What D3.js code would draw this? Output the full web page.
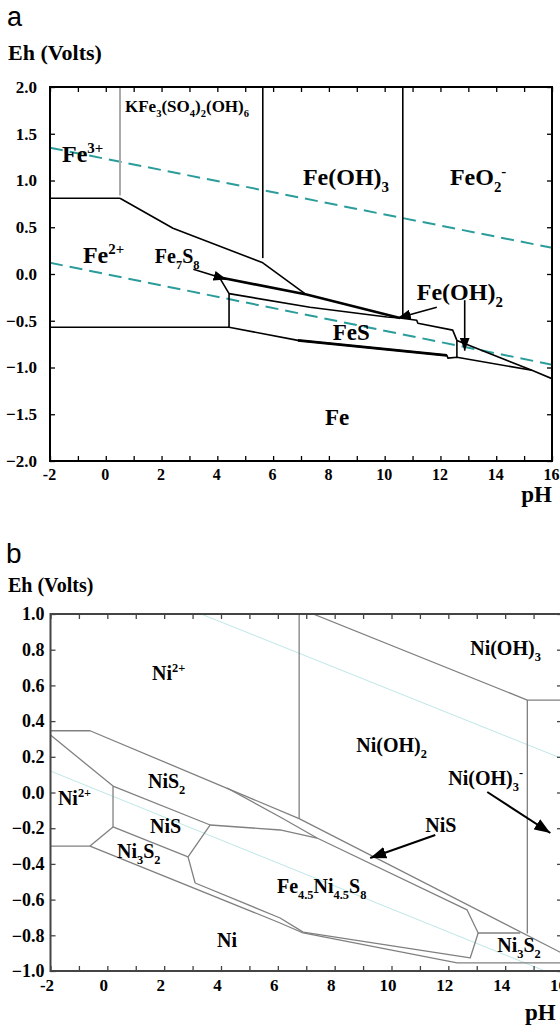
<!DOCTYPE html>
<html><head><meta charset="utf-8">
<script src="https://cdn.jsdelivr.net/npm/d3@7"></script>
<style>body{margin:0;background:#fff}</style>
</head><body><svg id="c" width="560" height="1025"></svg>
<script>
// ================= DATA =================
const phTicks = d3.range(-2, 17, 1);            // minor ticks every pH unit, labels every 2
const ehTicksA = [-2, -1.5, -1, -0.5, 0, 0.5, 1, 1.5, 2];
const ehTicksB = [-1, -0.8, -0.6, -0.4, -0.2, 0, 0.2, 0.4, 0.6, 0.8, 1];

// Panel a (Fe–S–K–H2O), points are [pH, Eh]
const feWaterLines = [[[-2, 1.35], [16, 0.28]], [[-2, 0.12], [16, -0.97]]];
const feGrayLines = [[[0.51, 2.0], [0.51, 0.84]]];
const feThinLines = [
  [[-2, 0.81], [0.51, 0.81]],
  [[0.51, 0.81], [2.41, 0.49], [5.63, 0.12], [7.14, -0.21]],
  [[5.63, 2.0], [5.63, 0.17]],
  [[10.65, 2.0], [10.65, -0.44]],
  [[-2, -0.57], [4.42, -0.57]],
  [[4.1, -0.05], [4.42, -0.21], [4.42, -0.57]],
  [[4.42, -0.21], [7.32, -0.355], [10.08, -0.46], [10.55, -0.47]],
  [[10.55, -0.47], [11.15, -0.495], [11.19, -0.527], [12.44, -0.60], [12.59, -0.71], [15.28, -1.03], [16, -1.12]],
  [[12.59, -0.71], [12.59, -0.89]],
  [[4.42, -0.57], [6.89, -0.71], [12.23, -0.87], [12.27, -0.90], [12.59, -0.89], [15.28, -1.03]]
];
const feThickLines = [
  [[4.15, -0.04], [7.2, -0.22], [10.55, -0.47]],
  [[6.89, -0.71], [12.23, -0.87]]
];
const feArrows = [
  [[3.14, 0.05], [4.33, -0.06]],
  [[11.87, -0.355], [10.47, -0.47]],
  [[12.87, -0.28], [12.87, -0.82]]
];
const feLabels = [
  {text: "KFe_{3}(SO_{4})_{2}(OH)_{6}", ph: 0.69, eh: 1.73},
  {text: "Fe^{3+}", ph: -1.57, eh: 1.20},
  {text: "Fe(OH)_{3}", ph: 7.07, eh: 0.95},
  {text: "FeO_{2}^{-}", ph: 12.34, eh: 0.95},
  {text: "Fe^{2+}", ph: -0.82, eh: 0.115},
  {text: "Fe_{7}S_{8}", ph: 1.76, eh: 0.115},
  {text: "Fe(OH)_{2}", ph: 11.15, eh: -0.28},
  {text: "FeS", ph: 8.14, eh: -0.71},
  {text: "Fe", ph: 7.86, eh: -1.62}
];

// Panel b (Ni–Fe–S–H2O)
const niWaterLines = [[[3.3, 1.0], [16, 0.19]], [[-2, 0.12], [15.4, -1.0]]];
const niLines = [
  [[-2, 0.346], [-0.61, 0.346], [6.75, -0.146], [16, -0.90]],
  [[-2, 0.322], [0.20, 0.036]],
  [[0.20, 0.036], [0.20, -0.193]],
  [[0.20, 0.036], [3.62, -0.182], [6.08, -0.210], [7.38, -0.255]],
  [[4.21, 0.025], [6.08, -0.137], [7.38, -0.255]],
  [[7.38, -0.255], [12.66, -0.658], [13.05, -0.787], [14.53, -0.787]],
  [[-2, -0.30], [-0.61, -0.30], [6.08, -0.731], [6.89, -0.787], [12.31, -0.955], [16, -0.955]],
  [[-0.61, -0.30], [0.20, -0.193]],
  [[0.20, -0.193], [2.84, -0.361]],
  [[3.62, -0.182], [2.84, -0.361], [3.09, -0.507]],
  [[3.09, -0.507], [6.08, -0.703], [6.89, -0.782], [12.77, -0.927], [13.05, -0.787]],
  [[6.75, 1.0], [6.75, -0.146]],
  [[7.24, 1.0], [14.78, 0.518], [16, 0.518]],
  [[14.78, 0.518], [14.78, -0.79]]
];
const niArrows = [
  [[11.54, -0.238], [9.25, -0.367]],
  [[13.37, 0.003], [15.59, -0.227]]
];
const niLabels = [
  {text: "Ni^{2+}", ph: 1.57, eh: 0.63},
  {text: "Ni(OH)_{3}", ph: 12.77, eh: 0.77},
  {text: "Ni(OH)_{2}", ph: 8.76, eh: 0.227},
  {text: "NiS_{2}", ph: 1.43, eh: 0.025},
  {text: "Ni^{2+}", ph: -1.74, eh: -0.07},
  {text: "NiS", ph: 1.50, eh: -0.227},
  {text: "Ni_{3}S_{2}", ph: 0.34, eh: -0.367},
  {text: "Ni", ph: 3.86, eh: -0.866},
  {text: "Fe_{4.5}Ni_{4.5}S_{8}", ph: 5.97, eh: -0.563},
  {text: "NiS", ph: 11.19, eh: -0.221},
  {text: "Ni(OH)_{3}^{-}", ph: 12.0, eh: 0.042},
  {text: "Ni_{3}S_{2}", ph: 13.72, eh: -0.894}
];

// ================= DRAWING =================
const SERIF = "'Liberation Serif'";
const SANS = "'Liberation Sans'";
const svg = d3.select("#c");

const defs = svg.append("defs");
function marker(id, color, len, wid) {
  defs.append("marker").attr("id", id).attr("viewBox", `0 0 ${len} ${wid}`)
    .attr("refX", len).attr("refY", wid / 2).attr("markerWidth", len).attr("markerHeight", wid)
    .attr("markerUnits", "userSpaceOnUse").attr("orient", "auto")
    .append("path").attr("d", `M0,0L${len},${wid / 2}L0,${wid}Z`).attr("fill", color);
}
marker("arrA", "#000", 13, 10);
marker("arrB", "#000", 16, 12);

function parseParts(s) {
  const re = /([_^])\{([^}]*)\}|([^_^]+)/g; const out = []; let m;
  while ((m = re.exec(s))) out.push(m[3] ? [m[3], ""] : [m[2], m[1] === "_" ? "sub" : "sup"]);
  return out;
}
function drawLabel(g, lab, x, y, size) {
  const t = g.append("text").attr("x", x(lab.ph)).attr("y", y(lab.eh))
    .style("font-family", SERIF).style("font-weight", "bold").style("font-size", size + "px").attr("fill", "#000");
  let shift = 0;
  parseParts(lab.text).forEach(([s, kind]) => {
    const target = kind === "sub" ? 0.28 * size : kind === "sup" ? -0.38 * size : 0;
    const ts = t.append("tspan").text(s).attr("dy", target - shift);
    if (kind) ts.style("font-size", (size * 0.62) + "px");
    shift = target;
  });
}

function panel(o) {
  const x = d3.scaleLinear().domain([-2, 16]).range([o.left, o.right]);
  const y = d3.scaleLinear().domain(o.ehDomain).range([o.bottom, o.top]);
  const g = svg.append("g");
  const line = d3.line().x(d => x(d[0])).y(d => y(d[1]));
  const clipId = "clip" + o.id;
  defs.append("clipPath").attr("id", clipId).append("rect")
    .attr("x", o.left).attr("y", o.top).attr("width", o.right - o.left).attr("height", o.bottom - o.top);
  const inner = g.append("g").attr("clip-path", `url(#${clipId})`);
  return {x, y, g, inner, line};
}

function axes(p, o) {
  const {x, y, g} = p;
  const fmtX = d => (d % 2 === 0 ? d : "");
  const bx = g.append("g").attr("transform", `translate(0,${o.bottom})`)
    .call(d3.axisBottom(x).tickValues(phTicks).tickSize(-5).tickPadding(o.xPad).tickFormat(fmtX));
  bx.selectAll("text").attr("dx", o.xdx).style("font-size", o.xFont + "px");
  g.append("g").attr("transform", `translate(0,${o.top})`)
    .call(d3.axisTop(x).tickValues(phTicks).tickSize(-5).tickFormat(""));
  const ly = g.append("g").attr("transform", `translate(${o.left},0)`)
    .call(d3.axisLeft(y).tickValues(o.ehTicks).tickSize(-5).tickPadding(o.yPad).tickFormat(d3.format(".1f")));
  ly.selectAll("text").style("font-size", o.yFont + "px");
  g.append("g").attr("transform", `translate(${o.right},0)`)
    .call(d3.axisRight(y).tickValues(o.ehTicks).tickSize(-5).tickFormat(""));
  g.selectAll(".domain").remove();
  g.selectAll(".tick line").attr("stroke", o.frame).attr("stroke-width", 1.3);
  g.selectAll(".tick text").style("font-family", SERIF).style("font-weight", "bold").attr("fill", "#000");
  g.append("rect").attr("x", o.left).attr("y", o.top).attr("width", o.right - o.left).attr("height", o.bottom - o.top)
    .attr("fill", "none").attr("stroke", o.frame).attr("stroke-width", 2);
}

// ---------- Panel a ----------
const oA = {id: "A", left: 50, right: 552, top: 87, bottom: 461, ehDomain: [-2, 2], ehTicks: ehTicksA,
  frame: "#000", xPad: 8, yPad: 13, xdx: -1, xFont: 16, yFont: 17};
const pA = panel(oA);
pA.inner.selectAll(".w").data(feWaterLines).enter().append("path").attr("d", pA.line)
  .attr("fill", "none").attr("stroke", "#2a9d9b").attr("stroke-width", 2).attr("stroke-dasharray", "13,7");
pA.inner.selectAll(".gr").data(feGrayLines).enter().append("path").attr("d", pA.line)
  .attr("fill", "none").attr("stroke", "#aaa").attr("stroke-width", 2);
pA.inner.selectAll(".th").data(feThinLines).enter().append("path").attr("d", pA.line)
  .attr("fill", "none").attr("stroke", "#000").attr("stroke-width", 1.6).attr("stroke-linejoin", "round");
pA.inner.selectAll(".tk").data(feThickLines).enter().append("path").attr("d", pA.line)
  .attr("fill", "none").attr("stroke", "#000").attr("stroke-width", 2.6);
pA.inner.selectAll(".ar").data(feArrows).enter().append("path").attr("d", pA.line)
  .attr("fill", "none").attr("stroke", "#000").attr("stroke-width", 1.6).attr("marker-end", "url(#arrA)");
axes(pA, oA);
const feLabelSizes = [17, 24, 24, 24, 24, 20, 24, 23, 23];
feLabels.forEach((l, i) => drawLabel(pA.g, l, pA.x, pA.y, feLabelSizes[i]));

// ---------- Panel b ----------
const oB = {id: "B", left: 50.5, right: 562, top: 614, bottom: 971, ehDomain: [-1, 1], ehTicks: ehTicksB,
  frame: "#444", xPad: 8, yPad: 6, xdx: -4, xFont: 17, yFont: 18};
const pB = panel(oB);
pB.inner.selectAll(".w").data(niWaterLines).enter().append("path").attr("d", pB.line)
  .attr("fill", "none").attr("stroke", "#bfe6e6").attr("stroke-width", 1);
pB.inner.selectAll(".l").data(niLines).enter().append("path").attr("d", pB.line)
  .attr("fill", "none").attr("stroke", "#808080").attr("stroke-width", 1.3).attr("stroke-linejoin", "round");
pB.inner.selectAll(".ar").data(niArrows).enter().append("path").attr("d", pB.line)
  .attr("fill", "none").attr("stroke", "#000").attr("stroke-width", 2).attr("marker-end", "url(#arrB)");
axes(pB, oB);
niLabels.forEach(l => drawLabel(pB.g, l, pB.x, pB.y, 20));

// ---------- Titles ----------
function title(x, y, txt, size, serif, anchor) {
  svg.append("text").attr("x", x).attr("y", y).attr("text-anchor", anchor || "start")
    .style("font-family", serif ? SERIF : SANS).style("font-weight", serif ? "bold" : "normal")
    .style("font-size", size + "px").text(txt);
}
title(7, 26, "a", 27, false);
title(8, 60, "Eh (Volts)", 22, true);
title(552, 502, "pH", 23, true, "end");
title(6, 563, "b", 28, false);
title(8, 592, "Eh (Volts)", 20, true);
title(525, 1020, "pH", 23, true);
</script></body></html>
